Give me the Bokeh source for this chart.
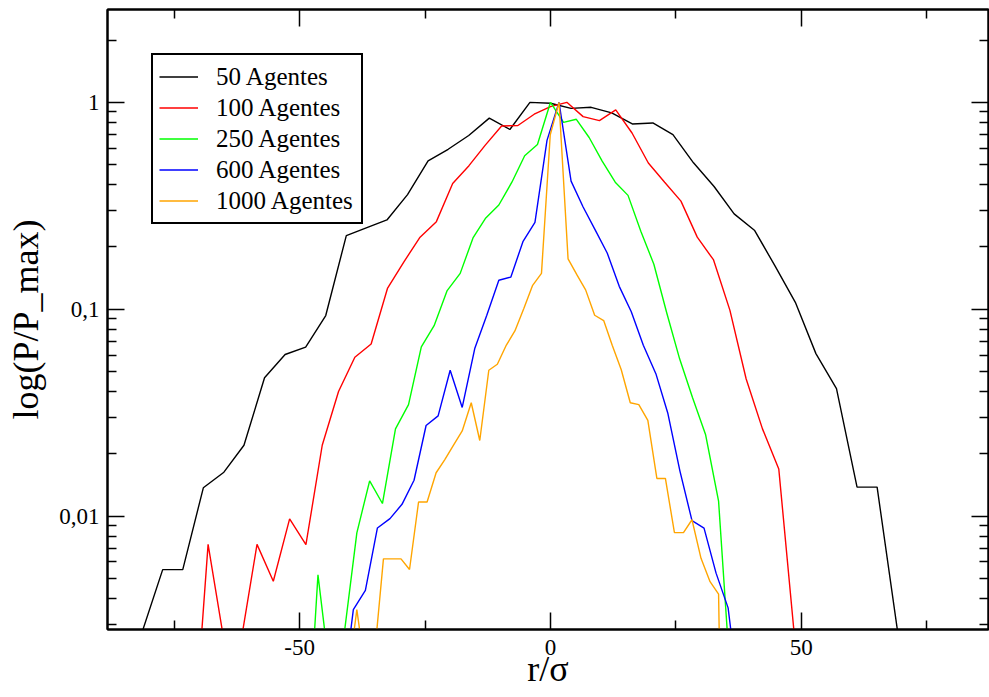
from bokeh.plotting import figure
from bokeh.models import (Range1d, FixedTicker, LinearAxis, LogAxis, Legend, LegendItem,
                          CustomJSTickFormatter)
from bokeh.embed import file_html
from bokeh.resources import INLINE

# ---------------- data ----------------
series_names = ["50 Agentes", "100 Agentes", "250 Agentes", "600 Agentes", "1000 Agentes"]
series_colors = ["#000000", "#ff0000", "#00ff00", "#0000ff", "#ffa500"]

x_50 = [-81.4, -77.3, -73.3, -69.2, -65.1, -61.1, -57.0, -52.9, -48.8, -44.8,
        -40.7, -36.6, -32.6, -28.5, -24.4, -20.4, -16.3, -12.2, -8.1, -4.1,
        0.0, 4.1, 8.1, 12.2, 16.3, 20.4, 24.4, 28.5, 32.6, 36.6,
        40.7, 44.8, 48.8, 52.9, 57.0, 61.1, 65.1, 69.2]
y_50 = [0.00275, 0.00551, 0.00551, 0.0137, 0.0163, 0.0220, 0.0466, 0.0604, 0.0656, 0.0932,
        0.227, 0.248, 0.270, 0.358, 0.521, 0.593, 0.691, 0.839, 0.739, 1.0,
        0.99, 0.935, 0.946, 0.889, 0.786, 0.795, 0.698, 0.510, 0.392, 0.289,
        0.240, 0.161, 0.108, 0.061, 0.0413, 0.0138, 0.0138, 0.00275]

x_100 = [-71.5, -68.25, -65.0, -61.75, -58.5, -55.25, -52.0, -48.75, -45.5, -42.25,
         -39.0, -35.75, -32.5, -29.25, -26.0, -22.75, -19.5, -16.25, -13.0, -9.75,
         -6.5, -3.25, 0.0, 3.25, 6.5, 9.75, 13.0, 16.25, 19.5, 22.75,
         26.0, 29.25, 32.5, 35.75, 39.0, 42.25, 45.5, 48.75]
y_100 = [0.0006, 0.0073, 0.00243, 0.00243, 0.0073, 0.00484, 0.0097, 0.00727, 0.022, 0.040,
         0.0586, 0.0679, 0.126, 0.169, 0.223, 0.265, 0.405, 0.494, 0.621, 0.769,
         0.773, 0.876, 0.953, 1.0, 0.853, 0.816, 0.919, 0.711, 0.509, 0.411,
         0.333, 0.223, 0.173, 0.099, 0.046, 0.0264, 0.0169, 0.00243]

x_250 = [-48.9, -46.35, -43.8, -41.2, -38.6, -36.05, -33.5, -30.9, -28.3, -25.75,
         -23.2, -20.6, -18.0, -15.45, -12.9, -10.3, -7.7, -5.15, -2.6, 0.0,
         2.6, 5.15, 7.7, 10.3, 12.9, 15.45, 18.0, 20.6, 23.2, 25.75,
         28.3, 30.9, 33.5, 36.05]
y_250 = [0.0005, 0.0052, 0.0016, 0.0026, 0.0083, 0.0148, 0.0115, 0.0264, 0.0346, 0.0657,
         0.0832, 0.123, 0.149, 0.221, 0.276, 0.319, 0.411, 0.552, 0.625, 1.0,
         0.80, 0.828, 0.676, 0.520, 0.411, 0.355, 0.238, 0.165, 0.0953, 0.0574,
         0.0374, 0.0248, 0.0118, 0.0014]

x_600 = [-41.7, -39.3, -36.9, -34.5, -32.0, -29.6, -27.2, -24.8, -22.4, -20.0,
         -17.6, -15.1, -12.7, -10.3, -7.9, -5.5, -3.1, -0.7, 1.7, 4.1,
         6.5, 8.9, 11.3, 13.7, 16.1, 18.5, 21.0, 23.4, 25.8, 28.2,
         30.6, 33.0, 35.4, 37.8]
y_600 = [0.0012, 0.00353, 0.00437, 0.00876, 0.00972, 0.0114, 0.0149, 0.0274, 0.0305, 0.0507,
         0.0335, 0.0645, 0.0935, 0.138, 0.143, 0.212, 0.263, 0.655, 1.0, 0.416,
         0.312, 0.242, 0.187, 0.129, 0.0972, 0.0669, 0.0488, 0.0313, 0.0165, 0.0095,
         0.00875, 0.0053, 0.0036, 0.0012]

x_1000 = [-40.3, -38.6, -36.8, -35.1, -33.3, -31.6, -29.8, -28.1, -26.3, -24.6,
          -22.8, -21.1, -19.3, -17.6, -15.8, -14.1, -12.3, -10.6, -8.8, -7.1,
          -5.3, -3.6, -1.8, -0.05, 1.7, 3.5, 5.3, 7.0, 8.8, 10.6,
          12.3, 14.1, 15.9, 17.6, 19.4, 21.2, 22.9, 24.7, 26.5, 28.2,
          30.0, 31.8, 33.5, 35.3]
y_1000 = [0.0017, 0.00353, 0.0017, 0.0021, 0.00621, 0.00621, 0.00621, 0.00552, 0.0117, 0.0117,
          0.0162, 0.0187, 0.0221, 0.0258, 0.0353, 0.0232, 0.0507, 0.0542, 0.0671, 0.0785,
          0.101, 0.130, 0.149, 0.697, 1.0, 0.175, 0.146, 0.124, 0.0935, 0.0881,
          0.067, 0.051, 0.0353, 0.0346, 0.029, 0.0152, 0.0152, 0.00832, 0.00832, 0.0096,
          0.00625, 0.00482, 0.0042, 0.00001]

x_ticks = [-50, 0, 50]
x_tick_labels = ["-50", "0", "50"]
x_minor_ticks = [-75, -25, 25, 75]
y_ticks = [0.01, 0.1, 1.0]
y_tick_labels = ["0,01", "0,1", "1"]
y_minor_ticks = [0.003, 0.004, 0.005, 0.006, 0.007, 0.008, 0.009,
                 0.02, 0.03, 0.04, 0.05, 0.06, 0.07, 0.08, 0.09,
                 0.2, 0.3, 0.4, 0.5, 0.6, 0.7, 0.8, 0.9, 2.0]

x_label = "r/σ"
y_label = "log(P/P_max)"

# ---------------- figure ----------------
FONT = "Liberation Serif"

p = figure(width=989, height=697,
           x_range=Range1d(-88.3, 87.3), y_range=Range1d(0.00283, 2.81),
           y_axis_type="log", output_backend="svg", toolbar_location=None,
           min_border_left=107, min_border_right=1, min_border_top=9, min_border_bottom=68)
p.background_fill_color = "white"
p.border_fill_color = "white"
p.outline_line_color = "black"
p.outline_line_width = 2
p.grid.visible = False

xticker = FixedTicker(ticks=x_ticks, minor_ticks=x_minor_ticks)
yticker = FixedTicker(ticks=y_ticks, minor_ticks=y_minor_ticks)


def style_axis(ax):
    ax.axis_line_color = "black"
    ax.axis_line_width = 2
    ax.major_tick_line_color = "black"
    ax.major_tick_line_width = 1.5
    ax.minor_tick_line_color = "black"
    ax.minor_tick_line_width = 1.5
    ax.major_tick_in = 17
    ax.major_tick_out = 0
    ax.minor_tick_in = 9
    ax.minor_tick_out = 0
    ax.major_label_text_font = FONT
    ax.major_label_text_font_size = "23px"
    ax.major_label_text_color = "black"
    ax.axis_label_text_font = FONT
    ax.axis_label_text_font_size = "36px"
    ax.axis_label_text_font_style = "normal"
    ax.axis_label_text_color = "black"


xa = p.xaxis[0]
xa.ticker = xticker
xa.major_label_overrides = dict(zip(x_ticks, x_tick_labels))
xa.axis_label = x_label
style_axis(xa)
xa.major_label_standoff = 10
xa.axis_label_standoff = -9

ya = p.yaxis[0]
ya.ticker = yticker
ya.major_label_overrides = dict(zip(y_ticks, y_tick_labels))
ya.axis_label = y_label
style_axis(ya)
ya.major_label_standoff = 8
ya.axis_label_standoff = 10

top_ax = LinearAxis(ticker=xticker, formatter=CustomJSTickFormatter(code="return ''"))
style_axis(top_ax)
top_ax.major_label_text_font_size = "1px"
top_ax.major_label_standoff = 0
p.add_layout(top_ax, "above")

right_ax = LogAxis(ticker=yticker, formatter=CustomJSTickFormatter(code="return ''"))
style_axis(right_ax)
right_ax.major_label_text_font_size = "1px"
right_ax.major_label_standoff = 0
p.add_layout(right_ax, "right")

xs = [x_50, x_100, x_250, x_600, x_1000]
ys = [y_50, y_100, y_250, y_600, y_1000]
items = []
for name, color, xv, yv in zip(series_names, series_colors, xs, ys):
    r = p.line(xv, yv, line_color=color, line_width=1.4)
    items.append(LegendItem(label=name, renderers=[r]))

legend = Legend(items=items, location="top_left", margin=44)
legend.label_text_font = FONT
legend.label_text_font_size = "25px"
legend.label_text_color = "black"
legend.border_line_color = "black"
legend.border_line_width = 2
legend.border_line_alpha = 1.0
legend.background_fill_color = "white"
legend.background_fill_alpha = 1.0
legend.padding = 6
legend.spacing = 0
legend.glyph_width = 39
legend.glyph_height = 31
legend.label_height = 31
legend.label_standoff = 18
legend.label_width = 139
p.add_layout(legend)

open("out.html", "w").write(file_html(p, INLINE))
